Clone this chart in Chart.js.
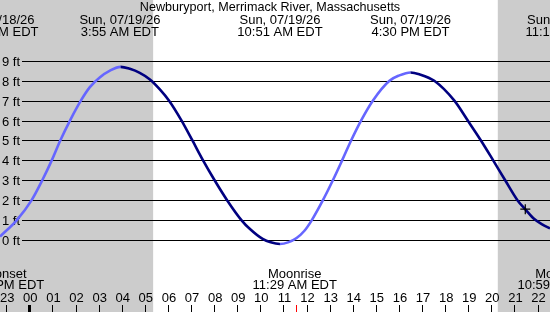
<!DOCTYPE html>
<html>
<head>
<meta charset="utf-8">
<script src="https://cdn.jsdelivr.net/npm/chart.js@4"></script>
<style>
html,body{margin:0;padding:0;background:#fff;}
#wrap{width:550px;height:312px;position:relative;}
canvas{display:block;}
</style>
</head>
<body>
<div id="wrap"><canvas id="c" width="550" height="312"></canvas></div>
<script>
// ---- data ----
const titleText = 'Newburyport, Merrimack River, Massachusetts';
// tide curve samples (hour of 07/19, feet)
const tideHours = [-1.27,-0.54,0.10,0.56,0.97,1.34,1.76,2.23,2.62,3.06,3.49,3.95,4.35,4.78,5.22,5.65,6.05,6.59,7.06,7.52,8.02,8.56,9.18,9.54,10.1,10.45,10.85,11.2,11.57,11.9,12.23,12.71,13.14,13.54,13.93,14.36,14.87,15.59,16.02,16.5,16.88,17.53,18.40,18.98,19.55,20.08,20.60,21.13,21.5,21.86,22.2,22.54];
const tideFeet  = [0.17,1,2,3,4,5,6,7,7.68,8.18,8.51,8.7,8.6,8.4,8.07,7.57,7.0,6,5,4,3,2,1,0.56,0.05,-0.12,-0.2,-0.12,0.1,0.45,1,2,3,4,5,6,7,8,8.27,8.42,8.33,8,7,6,5,4,3,2,1.5,1.05,0.78,0.58];
// current-time marker
const nowHour = [21.47];
const nowFeet = [1.55];
const nowTickHour = 11.53;
// high/low tide labels
const tideEventHours = [-1.45, 3.92, 10.85, 16.5, 23.3];
const tideEventDates = ['Sat, 07/18/26','Sun, 07/19/26','Sun, 07/19/26','Sun, 07/19/26','Sun, 07/19/26'];
const tideEventTimes = ['10:33 PM EDT','3:55 AM EDT','10:51 AM EDT','4:30 PM EDT','11:18 PM EDT'];
// moon events
const moonEventHours = [-1.2, 11.49, 22.98];
const moonEventNames = ['Moonset','Moonrise','Moonset'];
const moonEventTimes = ['10:48 PM EDT','11:29 AM EDT','10:59 PM EDT'];
// night (sunset..sunrise) spans in hours
const nightStarts = [-3, 20.28];
const nightEnds = [5.36, 25];
// axis ticks
const hourValues = [-1,0,1,2,3,4,5,6,7,8,9,10,11,12,13,14,15,16,17,18,19,20,21,22];
const hourLabels = ['23','00','01','02','03','04','05','06','07','08','09','10','11','12','13','14','15','16','17','18','19','20','21','22'];
const feetTicks = [0,1,2,3,4,5,6,7,8,9];
const feetLabels = ['0 ft','1 ft','2 ft','3 ft','4 ft','5 ft','6 ft','7 ft','8 ft','9 ft'];

const FONT = '13px "Liberation Sans", Arial, sans-serif';
const TITLE_FONT = '12.6px "Liberation Sans", Arial, sans-serif';
const RISE = '#6666ff', FALL = '#000080';

const decor = {
  id: 'decor',
  beforeDraw(chart) {
    const {ctx, scales:{x, y}, width, height} = chart;
    ctx.save();
    ctx.fillStyle = '#fff';
    ctx.fillRect(0, 0, width, height);
    ctx.fillStyle = '#cccccc';
    nightStarts.forEach((s, i) => {
      const a = Math.max(0, x.getPixelForValue(s));
      const b = Math.min(width, x.getPixelForValue(nightEnds[i]));
      ctx.fillRect(a, 0, b - a, height);
    });
    ctx.restore();
  },
  beforeDatasetsDraw(chart) {
    const {ctx, scales:{x, y}, width, height} = chart;
    ctx.save();
    // horizontal grid lines and ft labels
    ctx.strokeStyle = '#000';
    ctx.lineWidth = 1;
    ctx.fillStyle = '#000';
    ctx.font = FONT;
    ctx.textAlign = 'right';
    ctx.textBaseline = 'alphabetic';
    feetTicks.forEach((f, i) => {
      const py = Math.round(y.getPixelForValue(f)) + 0.5;
      ctx.beginPath();
      ctx.moveTo(22, py);
      ctx.lineTo(width, py);
      ctx.stroke();
      ctx.fillText(feetLabels[i], 20, py + 4.5);
    });
    // title + tide event labels
    ctx.textAlign = 'center';
    ctx.font = TITLE_FONT;
    ctx.fillText(titleText, 270, 11);
    ctx.font = FONT;
    tideEventHours.forEach((h, i) => {
      const px = x.getPixelForValue(h);
      ctx.fillText(tideEventDates[i], px, 24);
      ctx.fillText(tideEventTimes[i], px, 35.5);
    });
    // moon events
    moonEventHours.forEach((h, i) => {
      const px = x.getPixelForValue(h);
      ctx.fillText(moonEventNames[i], px, 277.5);
      ctx.fillText(moonEventTimes[i], px, 289);
    });
    // hour labels and ticks
    hourValues.forEach((h, i) => {
      const px = x.getPixelForValue(h);
      ctx.fillText(hourLabels[i], px + 1, 301.5);
      const tx = Math.round(px);
      if (h === 0) ctx.fillRect(tx - 1, 305, 3, 7);
      else ctx.fillRect(tx, 305, 1, 7);
    });
    ctx.fillStyle = '#ff0000';
    ctx.fillRect(Math.round(x.getPixelForValue(nowTickHour)), 305, 1, 7);
    ctx.restore();
  }
};

new Chart(document.getElementById('c'), {
  type: 'line',
  data: {
    datasets: [
      {
        data: tideHours.map((h, i) => ({x: h, y: tideFeet[i]})),
        borderColor: FALL,
        borderWidth: 2.6,
        pointRadius: 0,
        cubicInterpolationMode: 'monotone',
        segment: {
          borderColor: c => (c.p1.parsed.y > c.p0.parsed.y ? RISE : FALL)
        },
        order: 2
      },
      {
        type: 'scatter',
        data: nowHour.map((h, i) => ({x: h, y: nowFeet[i]})),
        pointStyle: 'cross',
        pointRadius: 5,
        borderColor: '#000',
        backgroundColor: '#000',
        pointBorderWidth: 1.2,
        order: 1
      }
    ]
  },
  options: {
    responsive: false,
    animation: false,
    devicePixelRatio: 1,
    layout: {padding: 0, autoPadding: false},
    plugins: {legend: {display: false}, tooltip: {enabled: false}, title: {display: false}},
    scales: {
      x: {type: 'linear', min: -1.27, max: 22.54, display: false},
      y: {type: 'linear', min: -3.62, max: 12.06, display: false}
    }
  },
  plugins: [decor]
});
</script>
</body>
</html>
